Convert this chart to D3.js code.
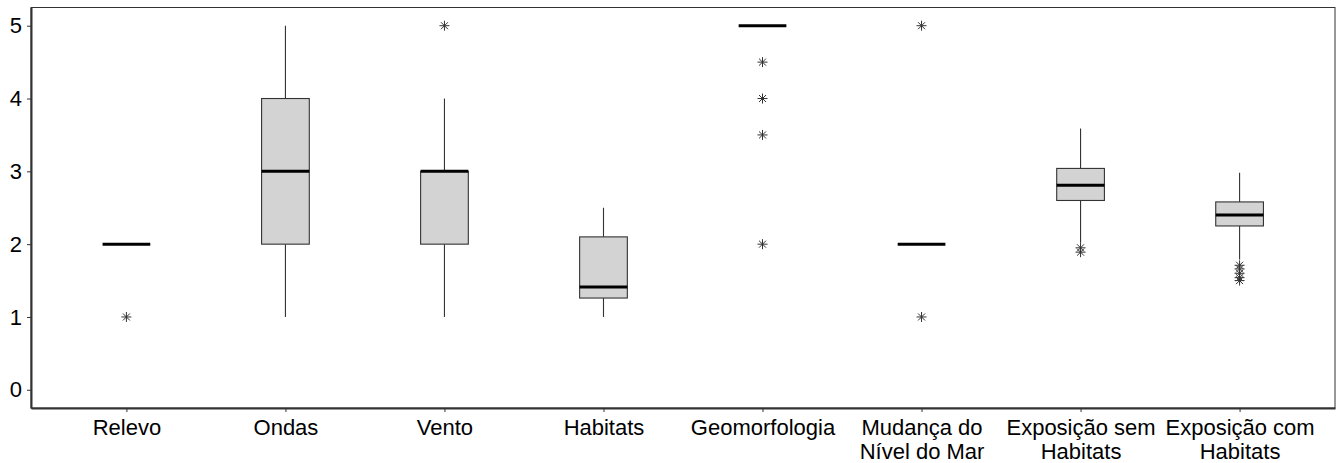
<!DOCTYPE html>
<html>
<head>
<meta charset="utf-8">
<script src="https://cdn.jsdelivr.net/npm/d3@7"></script>
<style>
  html, body { margin: 0; padding: 0; background: #fff; }
  svg { display: block; }
  svg text { font-family: "Liberation Sans", Arial, sans-serif !important; }
</style>
</head>
<body>
<svg id="chart" width="1337" height="463"></svg>
<script>
// Category labels (multi-line labels split on "\n")
const categories = [
  "Relevo", "Ondas", "Vento", "Habitats", "Geomorfologia",
  "Mudança do\nNível do Mar", "Exposição sem\nHabitats", "Exposição com\nHabitats"
];
// Box statistics per category
const whiskerLow  = [2,    1, 1, 1,    5, 2, 2.02, 1.79];
const quartile1   = [2,    2, 2, 1.26, 5, 2, 2.60, 2.25];
const medians     = [2,    3, 3, 1.41, 5, 2, 2.81, 2.40];
const quartile3   = [2,    4, 3, 2.10, 5, 2, 3.04, 2.58];
const whiskerHigh = [2,    5, 4, 2.50, 5, 2, 3.59, 2.98];
// Outlying points per category
const outliers = [
  [1],
  [],
  [5],
  [],
  [4.5, 4, 3.5, 2],
  [5, 1],
  [1.95, 1.89],
  [1.71, 1.66, 1.60, 1.54, 1.50]
];
const yTicks = [0, 1, 2, 3, 4, 5];

const FONT = "'Liberation Sans', Arial, sans-serif";
const svg = d3.select("#chart");
const margin = { left: 31, right: 2, top: 7.5, bottom: 55 };
const W = 1337, H = 463;
const x0 = margin.left, x1 = W - margin.right;
const y0 = margin.top, y1 = H - margin.bottom;

const x = d3.scalePoint().domain(categories).range([x0, x1]).padding(0.6);
const y = d3.scaleLinear().domain([-0.25, 5.25]).range([y1, y0]);
const boxW = x.step() * 0.3;

const rows = categories.map((c, i) => ({
  c, lo: whiskerLow[i], q1: quartile1[i], med: medians[i],
  q3: quartile3[i], hi: whiskerHigh[i], out: outliers[i]
}));

const g = svg.append("g");

// whiskers
g.selectAll(".whisk-hi").data(rows).join("line")
  .attr("x1", d => x(d.c)).attr("x2", d => x(d.c))
  .attr("y1", d => y(d.q3)).attr("y2", d => y(d.hi))
  .attr("stroke", "#333").attr("stroke-width", 1.1);
g.selectAll(".whisk-lo").data(rows).join("line")
  .attr("x1", d => x(d.c)).attr("x2", d => x(d.c))
  .attr("y1", d => y(d.q1)).attr("y2", d => y(d.lo))
  .attr("stroke", "#333").attr("stroke-width", 1.1);

// boxes
g.selectAll(".box").data(rows.filter(d => d.q3 > d.q1)).join("rect")
  .attr("x", d => x(d.c) - boxW / 2).attr("width", boxW)
  .attr("y", d => y(d.q3)).attr("height", d => y(d.q1) - y(d.q3))
  .attr("fill", "#d3d3d3").attr("stroke", "#333").attr("stroke-width", 1.1);

// medians
g.selectAll(".med").data(rows).join("line")
  .attr("x1", d => x(d.c) - boxW / 2).attr("x2", d => x(d.c) + boxW / 2)
  .attr("y1", d => y(d.med)).attr("y2", d => y(d.med))
  .attr("stroke", "#000").attr("stroke-width", 3);

// outliers drawn as asterisks
const pts = rows.flatMap(d => d.out.map(v => ({ c: d.c, v })));
const ast = g.selectAll(".out").data(pts).join("g")
  .attr("transform", d => `translate(${x(d.c)},${y(d.v)})`);
const r = 5;
[[0, -r, 0, r], [-r, 0, r, 0], [-r * 0.7, -r * 0.7, r * 0.7, r * 0.7], [-r * 0.7, r * 0.7, r * 0.7, -r * 0.7]]
  .forEach(s => {
    ast.append("line").attr("x1", s[0]).attr("y1", s[1]).attr("x2", s[2]).attr("y2", s[3])
      .attr("stroke", "#333").attr("stroke-width", 1);
  });

// panel border
svg.append("rect")
  .attr("x", x0).attr("y", y0).attr("width", x1 - x0).attr("height", y1 - y0)
  .attr("fill", "none").attr("stroke", "#333").attr("stroke-width", 1);

// y axis
const yAxis = svg.append("g").attr("transform", `translate(${x0},0)`)
  .call(d3.axisLeft(y).tickValues(yTicks).tickSizeInner(4).tickSizeOuter(0).tickPadding(5).tickFormat(d3.format("d")));
yAxis.attr("font-family", FONT).attr("font-size", 22);
yAxis.select(".domain").attr("stroke", "#333").attr("stroke-width", 2);
yAxis.selectAll(".tick line").attr("stroke", "#333");
yAxis.selectAll(".tick text").attr("fill", "#000");

// x axis
const xAxis = svg.append("g").attr("transform", `translate(0,${y1})`)
  .call(d3.axisBottom(x).tickSizeInner(4).tickSizeOuter(0).tickFormat(""));
xAxis.attr("font-family", FONT).attr("font-size", 22);
xAxis.select(".domain").attr("stroke", "#333").attr("stroke-width", 2);
xAxis.selectAll(".tick line").attr("stroke", "#333");
xAxis.selectAll(".tick").each(function (d) {
  const lines = d.split("\n");
  const t = d3.select(this).append("text")
    .attr("text-anchor", "middle").attr("fill", "#000");
  lines.forEach((ln, i) => {
    t.append("tspan").attr("x", 0).attr("y", 27 + i * 24).text(ln);
  });
});
</script>
</body>
</html>
